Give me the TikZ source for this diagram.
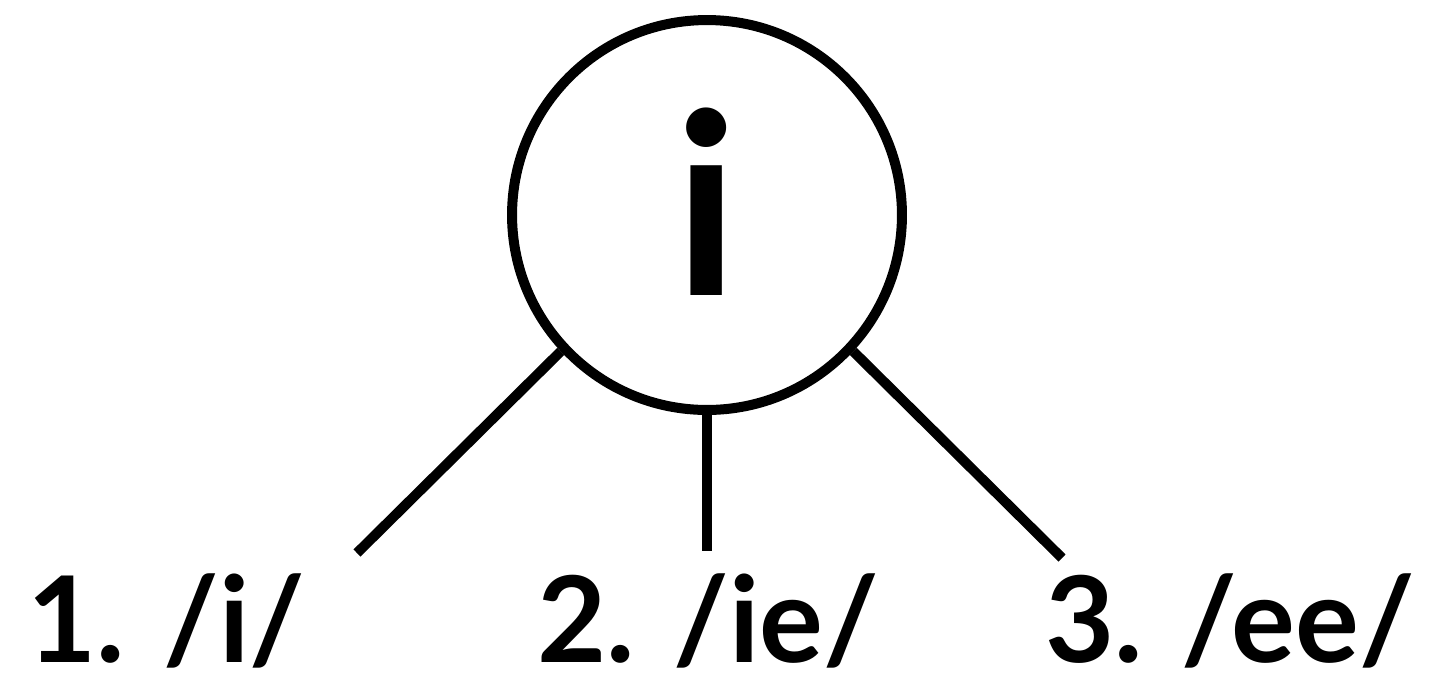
\documentclass[tikz,border=0pt]{standalone}
\usepackage{fontspec}
\setmainfont{Lato}
\usetikzlibrary{positioning}

\begin{document}
\begin{tikzpicture}[x=0.02cm,y=-0.02cm,
      ring/.style={draw,circle,line width=2mm,minimum size=7.8cm,inner sep=0pt},
      lbl/.style={font=\fontsize{68}{80}\selectfont\bfseries,inner sep=0pt,anchor=base west},
      letter/.style={font=\fontsize{144}{160}\selectfont\bfseries,inner sep=0pt,anchor=base},
      link/.style={line width=2mm}]
    \useasboundingbox (0,0) rectangle (1436,677);
    \node[ring] (grapheme) at (707,215) {};
    \node[letter] (glyph) at (707,295) {i};
    \node[lbl] (one) at (27,662) {1. /i/};
    \node[lbl] (two) at (537,662) {2. /ie/};
    \node[lbl] (three) at (1045,662) {3. /ee/};
    \coordinate (endone) at (357,553);
    \coordinate (endtwo) at (707,551);
    \coordinate (endthree) at (1062,558);
    \draw[link] (grapheme.-137)--(endone);
    \draw[link] (grapheme.south)--(endtwo);
    \draw[link] (grapheme.-43)--(endthree);
  \end{tikzpicture}
\end{document}
